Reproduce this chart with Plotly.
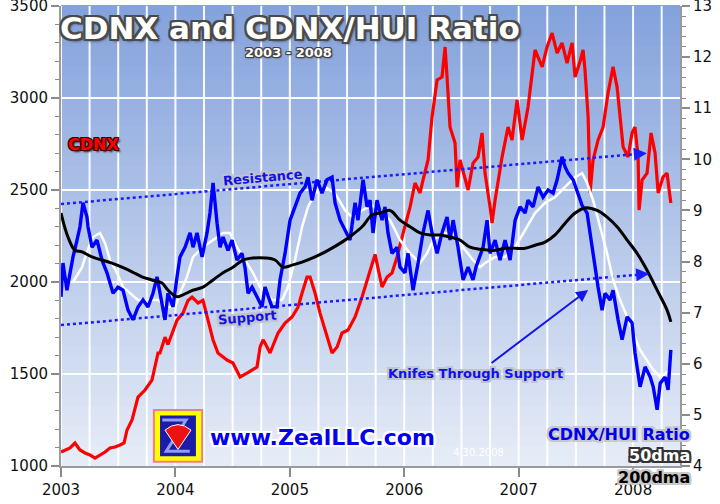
import plotly.graph_objects as go

# ---------------- data ----------------
cdnx_t = [2003.000, 2003.079, 2003.122, 2003.166, 2003.210, 2003.253, 2003.297, 2003.341, 2003.385,
          2003.428, 2003.472, 2003.516, 2003.551, 2003.577, 2003.621, 2003.673, 2003.734, 2003.795,
          2003.848, 2003.865, 2003.909, 2003.935, 2004.014, 2004.066, 2004.110, 2004.145, 2004.198,
          2004.241, 2004.285, 2004.329, 2004.372, 2004.451, 2004.503, 2004.565, 2004.626, 2004.713,
          2004.740, 2004.766, 2004.783, 2004.827, 2004.897, 2004.958, 2005.019, 2005.072, 2005.107,
          2005.150, 2005.177, 2005.220, 2005.264, 2005.308, 2005.369, 2005.413, 2005.456, 2005.509,
          2005.570, 2005.631, 2005.684, 2005.745, 2005.806, 2005.850, 2005.893, 2005.937, 2005.990,
          2006.051, 2006.094, 2006.138, 2006.164, 2006.208, 2006.243, 2006.287, 2006.330, 2006.357,
          2006.374, 2006.400, 2006.444, 2006.462, 2006.488, 2006.531, 2006.558, 2006.601, 2006.645,
          2006.680, 2006.706, 2006.750, 2006.767, 2006.794, 2006.855, 2006.907, 2006.942, 2006.986,
          2007.030, 2007.082, 2007.143, 2007.205, 2007.248, 2007.292, 2007.336, 2007.379, 2007.423,
          2007.467, 2007.493, 2007.537, 2007.563, 2007.580, 2007.607, 2007.624, 2007.650, 2007.694,
          2007.738, 2007.781, 2007.825, 2007.860, 2007.886, 2007.913, 2007.956, 2007.991, 2008.017,
          2008.044, 2008.052, 2008.079, 2008.122, 2008.157, 2008.192, 2008.219, 2008.262, 2008.297,
          2008.315, 2008.330]
cdnx_v = [1076, 1098, 1125, 1087, 1071, 1060, 1043, 1060, 1076,
          1098, 1103, 1114, 1125, 1196, 1250, 1375, 1413, 1467,
          1614, 1614, 1700, 1660, 1793, 1831, 1900, 1918, 1886,
          1900, 1793, 1685, 1614, 1576, 1560, 1484, 1505, 1538,
          1647, 1685, 1668, 1614, 1723, 1777, 1810, 1864, 1940,
          2027, 2027, 1940, 1831, 1739, 1614, 1647, 1723, 1739,
          1810, 1918, 2027, 2150, 1973, 2027, 2049, 2136, 2266,
          2408, 2538, 2484, 2554, 2663, 2897, 3098, 3114, 3277,
          3114, 2842, 2755, 2516, 2663, 2554, 2500, 2646, 2679,
          2810, 2592, 2408, 2321, 2446, 2679, 2842, 2772, 2989,
          2772, 2951, 3261, 3169, 3277, 3353, 3244, 3299, 3190,
          3299, 3114, 3200, 3261, 3150, 2897, 2484, 2663, 2772,
          2842, 3027, 3169, 3060, 2897, 2734, 2679, 2810, 2842,
          2679, 2391, 2554, 2592, 2810, 2701, 2484, 2571, 2592,
          2500, 2429]

ratio_t = [2003.000, 2003.017, 2003.052, 2003.079, 2003.105, 2003.140, 2003.166, 2003.192, 2003.227,
           2003.236, 2003.271, 2003.315, 2003.358, 2003.402, 2003.455, 2003.498, 2003.542, 2003.586,
           2003.629, 2003.673, 2003.717, 2003.760, 2003.804, 2003.839, 2003.865, 2003.883, 2003.909,
           2003.935, 2003.979, 2004.014, 2004.040, 2004.084, 2004.128, 2004.154, 2004.189, 2004.233,
           2004.276, 2004.302, 2004.329, 2004.364, 2004.390, 2004.416, 2004.460, 2004.495, 2004.538,
           2004.582, 2004.608, 2004.635, 2004.670, 2004.713, 2004.757, 2004.783, 2004.844, 2004.888,
           2004.914, 2004.958, 2005.002, 2005.045, 2005.089, 2005.133, 2005.159, 2005.194, 2005.238,
           2005.281, 2005.325, 2005.369, 2005.395, 2005.439, 2005.483, 2005.526, 2005.570, 2005.596,
           2005.640, 2005.675, 2005.701, 2005.727, 2005.762, 2005.806, 2005.832, 2005.858, 2005.893,
           2005.937, 2005.963, 2006.007, 2006.033, 2006.077, 2006.121, 2006.164, 2006.208, 2006.243,
           2006.287, 2006.330, 2006.374, 2006.400, 2006.427, 2006.470, 2006.514, 2006.558, 2006.601,
           2006.628, 2006.689, 2006.724, 2006.750, 2006.794, 2006.837, 2006.881, 2006.925, 2006.969,
           2007.012, 2007.056, 2007.082, 2007.126, 2007.170, 2007.213, 2007.257, 2007.301, 2007.336,
           2007.379, 2007.406, 2007.432, 2007.476, 2007.519, 2007.554, 2007.598, 2007.624, 2007.650,
           2007.694, 2007.729, 2007.755, 2007.799, 2007.825, 2007.869, 2007.904, 2007.948, 2007.991,
           2008.017, 2008.061, 2008.105, 2008.150, 2008.176, 2008.210, 2008.237, 2008.280, 2008.306,
           2008.320, 2008.330]
ratio_v = [7.31, 7.97, 7.44, 7.78, 8.09, 8.42, 8.68, 9.15, 8.87,
           8.68, 8.28, 8.42, 8.03, 7.78, 7.38, 7.50, 7.44, 7.05,
           6.86, 7.11, 7.25, 7.11, 7.38, 7.70, 7.38, 7.11, 6.86,
           7.38, 7.11, 7.70, 8.09, 8.28, 8.56, 8.28, 8.56, 8.09,
           8.56, 8.95, 9.54, 8.75, 8.28, 8.48, 8.22, 8.42, 8.03,
           8.16, 7.89, 7.38, 7.50, 7.31, 7.11, 7.50, 7.11, 7.11,
           7.64, 8.16, 8.81, 9.07, 9.34, 9.46, 9.65, 9.20, 9.60,
           9.34, 9.60, 9.65, 9.15, 8.81, 8.62, 8.42, 9.15, 8.81,
           9.60, 9.07, 9.20, 8.56, 9.20, 8.81, 9.07, 8.56, 8.16,
           8.28, 7.89, 7.78, 8.16, 7.44, 7.97, 8.56, 9.00, 8.56,
           8.16, 8.56, 8.87, 8.42, 8.81, 8.28, 7.64, 7.89, 7.64,
           7.90, 8.28, 8.81, 8.16, 8.42, 8.03, 8.42, 8.03, 8.81,
           9.07, 8.95, 9.20, 9.07, 9.46, 9.26, 9.40, 9.34, 9.60,
           10.05, 9.85, 9.73, 9.60, 9.34, 9.10, 8.95, 8.56, 8.09,
           7.50, 7.05, 7.38, 7.25, 7.44, 6.86, 6.47, 6.92, 6.80,
           6.21, 5.55, 5.94, 5.74, 5.55, 5.10, 5.62, 5.74, 5.49,
           5.94, 6.27]

dma50_t = [2003.105, 2003.184, 2003.227, 2003.280, 2003.341, 2003.385, 2003.428, 2003.490, 2003.542,
           2003.603, 2003.673, 2003.760, 2003.848, 2003.927, 2003.997, 2004.040, 2004.101, 2004.154,
           2004.241, 2004.329, 2004.416, 2004.477, 2004.538, 2004.608, 2004.678, 2004.740, 2004.801,
           2004.844, 2004.932, 2004.984, 2005.045, 2005.107, 2005.159, 2005.220, 2005.308, 2005.395,
           2005.483, 2005.544, 2005.631, 2005.718, 2005.788, 2005.876, 2005.963, 2006.051, 2006.138,
           2006.199, 2006.252, 2006.339, 2006.427, 2006.514, 2006.601, 2006.663, 2006.706, 2006.794,
           2006.881, 2006.969, 2007.056, 2007.143, 2007.231, 2007.318, 2007.406, 2007.493, 2007.554,
           2007.598, 2007.650, 2007.711, 2007.773, 2007.825, 2007.886, 2007.948, 2008.000, 2008.061,
           2008.122, 2008.176, 2008.237, 2008.297, 2008.330]
dma50_v = [7.60, 7.89, 8.19, 8.48, 8.56, 8.36, 8.03, 7.78, 7.50,
           7.38, 7.25, 7.25, 7.25, 7.11, 7.11, 7.38, 7.70, 8.09,
           8.28, 8.42, 8.56, 8.56, 8.28, 8.03, 7.78, 7.50, 7.38,
           7.25, 7.25, 7.50, 8.03, 8.68, 9.07, 9.34, 9.46, 9.34,
           9.00, 8.87, 9.00, 9.10, 9.00, 8.81, 8.42, 8.16, 7.97,
           8.16, 8.42, 8.56, 8.56, 8.28, 8.03, 7.89, 7.97, 8.09,
           8.09, 8.28, 8.62, 8.95, 9.15, 9.26, 9.46, 9.65, 9.73,
           9.54, 9.20, 8.68, 8.16, 7.64, 7.25, 6.92, 6.60, 6.27,
           6.07, 5.88, 5.74, 5.82, 5.88]

dma200_t = [2003.000, 2003.061, 2003.122, 2003.184, 2003.271, 2003.358, 2003.446, 2003.533, 2003.621,
            2003.708, 2003.795, 2003.883, 2003.935, 2004.014, 2004.066, 2004.154, 2004.241, 2004.329,
            2004.416, 2004.503, 2004.591, 2004.678, 2004.783, 2004.871, 2004.941, 2005.019, 2005.107,
            2005.220, 2005.334, 2005.456, 2005.544, 2005.631, 2005.718, 2005.788, 2005.876, 2005.963,
            2006.051, 2006.138, 2006.226, 2006.313, 2006.400, 2006.488, 2006.575, 2006.663, 2006.794,
            2006.881, 2006.969, 2007.056, 2007.143, 2007.231, 2007.318, 2007.406, 2007.493, 2007.580,
            2007.685, 2007.773, 2007.860, 2007.948, 2008.035, 2008.122, 2008.210, 2008.297, 2008.330]
dma200_v = [8.95, 8.48, 8.22, 8.19, 8.09, 8.03, 7.97, 7.89, 7.80,
            7.70, 7.64, 7.58, 7.44, 7.31, 7.35, 7.44, 7.50, 7.64,
            7.78, 7.89, 8.03, 8.07, 8.07, 8.03, 7.89, 7.93, 7.99,
            8.09, 8.22, 8.38, 8.52, 8.68, 8.91, 8.95, 9.00, 8.81,
            8.68, 8.56, 8.52, 8.52, 8.48, 8.42, 8.28, 8.24, 8.22,
            8.26, 8.26, 8.26, 8.32, 8.38, 8.52, 8.75, 8.95, 9.05,
            9.00, 8.87, 8.68, 8.42, 8.16, 7.83, 7.44, 7.05, 6.82]

# trend channel (CDNX axis units)
resist_t = [2003.0, 2008.12]
resist_v = [2424, 2700]
support_t = [2003.0, 2008.14]
support_v = [1766, 2045]
knife_tail = (2006.75, 1554)
knife_head = (2007.607, 1957)

year_ticks = [2003, 2004, 2005, 2006, 2007, 2008]
year_labels = ["2003", "2004", "2005", "2006", "2007", "2008"]
cdnx_grid = [1500, 2000, 2500, 3000]
x_max = 2008.41

# ---------------- figure ----------------
fig = go.Figure()
shapes = []

# gradient plot background
top_c = (132, 162, 220)
bot_c = (230, 236, 247)
nb = 46
for i in range(nb):
    f = i / (nb - 1)
    c = tuple(int(round(bot_c[k] + (top_c[k] - bot_c[k]) * f)) for k in range(3))
    shapes.append(dict(type="rect", xref="paper", yref="paper",
                       x0=0, x1=1, y0=i / nb, y1=(i + 1) / nb + 0.002,
                       fillcolor="rgb(%d,%d,%d)" % c, line_width=0, layer="below"))

# white grid (quarterly verticals, 500-step horizontals), drawn over the gradient
grid_col = "rgba(255,255,255,0.95)"
for yr in year_ticks:
    for q in range(4):
        gx = yr + q * 0.25
        if gx <= x_max:
            shapes.append(dict(type="line", xref="x", yref="paper", x0=gx, x1=gx, y0=0, y1=1,
                               line=dict(color=grid_col, width=2), layer="below"))
for gy in cdnx_grid:
    shapes.append(dict(type="line", xref="paper", yref="y", x0=0, x1=1, y0=gy, y1=gy,
                       line=dict(color=grid_col, width=2), layer="below"))

fig.add_trace(go.Scatter(x=dma50_t, y=dma50_v, yaxis="y2", mode="lines",
                         line=dict(color="white", width=2.5), showlegend=False))
fig.add_trace(go.Scatter(x=ratio_t, y=ratio_v, yaxis="y2", mode="lines",
                         line=dict(color="#0000ff", width=3.4), showlegend=False))
fig.add_trace(go.Scatter(x=dma200_t, y=dma200_v, yaxis="y2", mode="lines",
                         line=dict(color="black", width=3, shape="spline"), showlegend=False))
fig.add_trace(go.Scatter(x=cdnx_t, y=cdnx_v, mode="lines",
                         line=dict(color="#ff0000", width=3.2), showlegend=False))
fig.add_trace(go.Scatter(x=resist_t, y=resist_v, mode="lines",
                         line=dict(color="#1a1aff", width=2.5, dash="dot"), showlegend=False))
fig.add_trace(go.Scatter(x=support_t, y=support_v, mode="lines",
                         line=dict(color="#1a1aff", width=2.5, dash="dot"), showlegend=False))

def halo(col, w=1):
    parts = []
    for dx in (-w, 0, w):
        for dy in (-w, 0, w):
            if dx or dy:
                parts.append("%dpx %dpx 0px %s" % (dx, dy, col))
    return ", ".join(parts)

anns = []
def txt(text, x, y, size, color, shadow, xanchor="center", angle=0, family="DejaVu Sans", weight="bold"):
    anns.append(dict(text=text, x=x, y=y, xref="paper", yref="paper", xanchor=xanchor,
                     yanchor="middle", showarrow=False, textangle=angle,
                     font=dict(family=family, size=size, color=color, weight=weight, shadow=shadow)))

dark_outline = halo("#4a4a4a", 2) + ", 2px 2px 3px #333"
txt("CDNX and CDNX/HUI Ratio", 0.370, 0.952, 31, "white", dark_outline)
txt("2003 - 2008", 0.368, 0.898, 13, "white", halo("#444", 1) + ", 1px 1px 2px #222")
txt("CDNX", 0.0517, 0.698, 16, "#ff0000", halo("#3a0000", 1) + ", 2px 2px 2px #222")
txt("Resistance", 0.326, 0.628, 13, "#1010ee", halo("#c0c4cc", 2), angle=-5)
txt("Support", 0.302, 0.322, 13, "#1010ee", halo("#c0c4cc", 2), angle=-5)
txt("Knifes Through Support", 0.670, 0.202, 13, "#1010ee", halo("#c0c4cc", 2))
txt("4.30.2008", 0.675, 0.030, 10, "white", "", weight="normal")
txt("www.ZealLLC.com", 0.423, 0.063, 22, "#0000ee", halo("white", 2))
txt("CDNX/HUI Ratio", 1.019, 0.068, 16, "#0000ee", halo("#c8c8c8", 2), xanchor="right")
txt("50dma", 1.019, 0.023, 16, "white", halo("#333", 2), xanchor="right")
txt("200dma", 1.019, -0.024, 16, "black", halo("#c8c8c8", 2), xanchor="right")

# arrows
anns.append(dict(x=resist_t[1], y=resist_v[1], ax=resist_t[1] - 0.08, ay=resist_v[1] - 4,
                 xref="x", yref="y", axref="x", ayref="y", text="", showarrow=True,
                 arrowhead=2, arrowsize=1.3, arrowwidth=2, arrowcolor="#1a1aff"))
anns.append(dict(x=support_t[1], y=support_v[1], ax=support_t[1] - 0.08, ay=support_v[1] - 4,
                 xref="x", yref="y", axref="x", ayref="y", text="", showarrow=True,
                 arrowhead=2, arrowsize=1.3, arrowwidth=2, arrowcolor="#1a1aff"))
anns.append(dict(x=knife_head[0], y=knife_head[1], ax=knife_tail[0], ay=knife_tail[1],
                 xref="x", yref="y", axref="x", ayref="y", text="", showarrow=True,
                 arrowhead=2, arrowsize=1.2, arrowwidth=2, arrowcolor="#1414e6"))

# logo
shapes.append(dict(type="rect", xref="paper", yref="paper", x0=0.150, x1=0.228, y0=0.009, y1=0.122,
                   fillcolor="#ffff00", line=dict(color="#f08080", width=2), layer="above"))
shapes.append(dict(type="rect", xref="paper", yref="paper", x0=0.160, x1=0.218, y0=0.021, y1=0.110,
                   fillcolor="#1c1ca8", line=dict(width=0), layer="above"))
shapes.append(dict(type="path", xref="paper", yref="paper",
                   path="M 0.1636 0.100 L 0.2020 0.100 L 0.1700 0.032 L 0.2080 0.032",
                   line=dict(color="#8f9ff0", width=3), layer="above"))
shapes.append(dict(type="path", xref="paper", yref="paper",
                   path="M 0.189 0.036 L 0.168 0.078 Q 0.189 0.102 0.210 0.078 Z",
                   fillcolor="#ee1111", line=dict(color="white", width=1), layer="above"))

axis_font = dict(family="DejaVu Sans", size=15, color="#111")
fig.update_layout(
    width=720, height=504,
    margin=dict(l=61, r=40, t=6, b=38, autoexpand=False),
    paper_bgcolor="white", plot_bgcolor="rgba(0,0,0,0)",
    annotations=anns,
    shapes=shapes,
    xaxis=dict(range=[2003, x_max], tickmode="array", tickvals=year_ticks, ticktext=year_labels,
               showgrid=False, automargin=False, ticklabeloverflow="allow",
               ticks="outside", ticklen=9, tickwidth=2, tickcolor="#8a8a8a",
               showline=True, linecolor="#9a9a9a", linewidth=2, zeroline=False,
               tickfont=axis_font),
    yaxis=dict(range=[1000, 3500], dtick=500, tick0=1000, showgrid=False, automargin=False,
               ticklabeloverflow="allow",
               minor=dict(dtick=100, ticks="outside", ticklen=4, tickwidth=1, tickcolor="#8a8a8a", showgrid=False),
               ticks="outside", ticklen=8, tickwidth=2, tickcolor="#8a8a8a",
               showline=True, linecolor="#9a9a9a", linewidth=2, zeroline=False,
               tickfont=axis_font),
    yaxis2=dict(range=[4, 13], dtick=1, tick0=4, overlaying="y", side="right",
                showgrid=False, automargin=False, ticklabeloverflow="allow",
                minor=dict(dtick=0.2, ticks="outside", ticklen=4, tickwidth=1, tickcolor="#8a8a8a", showgrid=False),
                ticks="outside", ticklen=8, tickwidth=2, tickcolor="#8a8a8a",
                showline=True, linecolor="#9a9a9a", linewidth=2, zeroline=False,
                tickfont=axis_font),
)

fig.write_html("out.html", config={"displayModeBar": False},
               post_script="document.body.style.margin='0px';document.body.style.padding='0px';")
